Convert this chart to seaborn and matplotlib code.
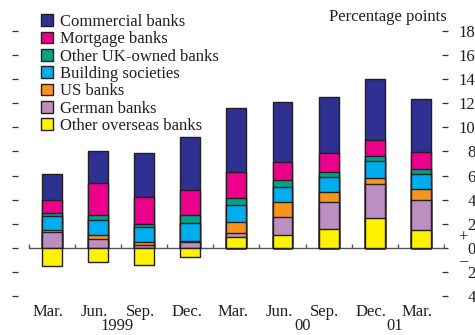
import matplotlib
matplotlib.use('Agg')
import matplotlib.pyplot as plt
import seaborn as sns
import pandas as pd
import numpy as np

# data (percentage points)
periods = ['Mar 99', 'Jun 99', 'Sep 99', 'Dec 99', 'Mar 00', 'Jun 00', 'Sep 00', 'Dec 00', 'Mar 01']
tick_labels = ['Mar.', 'Jun.', 'Sep.', 'Dec.', 'Mar.', 'Jun.', 'Sep.', 'Dec.', 'Mar.']
year_labels = ['1999', '00', '01']

commercial = [2.10, 2.63, 3.70, 4.40, 5.31, 4.93, 4.59, 5.04, 4.35]
mortgage = [1.15, 2.70, 2.20, 2.05, 2.21, 1.52, 1.58, 1.30, 1.46]
other_uk = [0.20, 0.35, 0.30, 0.70, 0.58, 0.55, 0.46, 0.44, 0.41]
building = [1.20, 1.25, 1.25, 1.45, 1.41, 1.30, 1.25, 1.41, 1.25]
us_banks = [0.15, 0.35, 0.20, 0.15, 0.86, 1.19, 0.83, 0.50, 0.94]
german = [1.30, 0.75, 0.25, 0.45, 0.41, 1.52, 2.24, 2.82, 2.49]
other_overseas = [-1.55, -1.20, -1.40, -0.75, 0.86, 1.08, 1.55, 2.49, 1.44]

series = ['Other overseas banks', 'German banks', 'US banks', 'Building societies',
          'Other UK-owned banks', 'Mortgage banks', 'Commercial banks']
colors = {'Commercial banks': '#2e3192', 'Mortgage banks': '#ec008c',
          'Other UK-owned banks': '#00a383', 'Building societies': '#00aeef',
          'US banks': '#f7941d', 'German banks': '#bb8fc1',
          'Other overseas banks': '#fff200'}

df = pd.DataFrame({'period': periods,
                   'Other overseas banks': other_overseas,
                   'German banks': german,
                   'US banks': us_banks,
                   'Building societies': building,
                   'Other UK-owned banks': other_uk,
                   'Mortgage banks': mortgage,
                   'Commercial banks': commercial})

# cumulative tops of the positive stack, yellow sits below zero when negative
cum = df[series].copy()
cum['Other overseas banks'] = df['Other overseas banks'].clip(lower=0)
cum = cum.cumsum(axis=1)
cum['Other overseas banks'] = df['Other overseas banks']
cum['period'] = df['period']

sns.set_style('white')
plt.rcParams['font.family'] = ['Liberation Serif', 'DejaVu Serif']
fs = 12

W, H = 475, 335
fig = plt.figure(figsize=(W / 100, H / 100), dpi=100)
ax = fig.add_axes([15 / W, 39 / H, 430 / W, 265 / H])

edge = '#231f20'
for name in series[::-1]:
    sns.barplot(data=cum, x='period', y=name, order=periods, color=colors[name],
                saturation=1, width=0.43, edgecolor=edge, linewidth=1.0,
                errorbar=None, ax=ax, zorder=2)

# zero line with small marks between the quarters
ax.plot([-0.5, 8.5], [0, 0], color='#555555', lw=1.0, zorder=1)
ax.vlines(np.arange(-0.5, 9.0, 1.0), 0, 0.35, color='#555555', lw=1.0, zorder=1)

ax.set_xlim(-0.803, 8.525)
ax.set_ylim(-4, 18)
for s in ax.spines.values():
    s.set_visible(False)

ax.set_yticks(np.arange(-4, 19, 2))
ax.set_yticklabels([str(abs(v)) for v in range(-4, 19, 2)])
ax.tick_params(axis='y', left=True, right=True, labelleft=False, labelright=True,
               direction='inout', length=5, width=0.9, color='#333333', pad=19.5,
               labelsize=fs, labelcolor='#231f20')
for lab in ax.get_yticklabels():
    lab.set_horizontalalignment('right')

ax.set_xticks(np.arange(len(periods)) - 0.08)
ax.set_xticklabels(tick_labels)
ax.tick_params(axis='x', length=0, pad=5.5, labelsize=fs, labelcolor='#231f20')
ax.set_xlabel('')
ax.set_ylabel('')

for lab, x in zip(year_labels, [1.41, 5.44, 7.44]):
    ax.text(x, -6.45, lab, ha='center', va='center', fontsize=fs, color='#231f20', clip_on=False)

fig.text(463 / W, 1 - 238 / H, '+', ha='center', va='center', fontsize=fs, color='#231f20')
fig.text(463 / W, 1 - 261 / H, '\u2013', ha='center', va='center', fontsize=fs, color='#231f20')
fig.text(447 / W, 1 - 17 / H, 'Percentage points', ha='right', va='center', fontsize=fs, color='#231f20')

handles = [plt.Rectangle((0, 0), 1, 1, facecolor=colors[n], edgecolor=edge, lw=1.0) for n in series[::-1]]
fig.legend(handles, series[::-1], loc='upper left', bbox_to_anchor=(41 / W, 1 - 14 / H),
           frameon=False, fontsize=fs, handlelength=0.7, handleheight=0.7,
           handletextpad=0.45, labelspacing=0.08, borderpad=0, borderaxespad=0,
           labelcolor='#231f20')

fig.savefig('out.png', dpi=100)
